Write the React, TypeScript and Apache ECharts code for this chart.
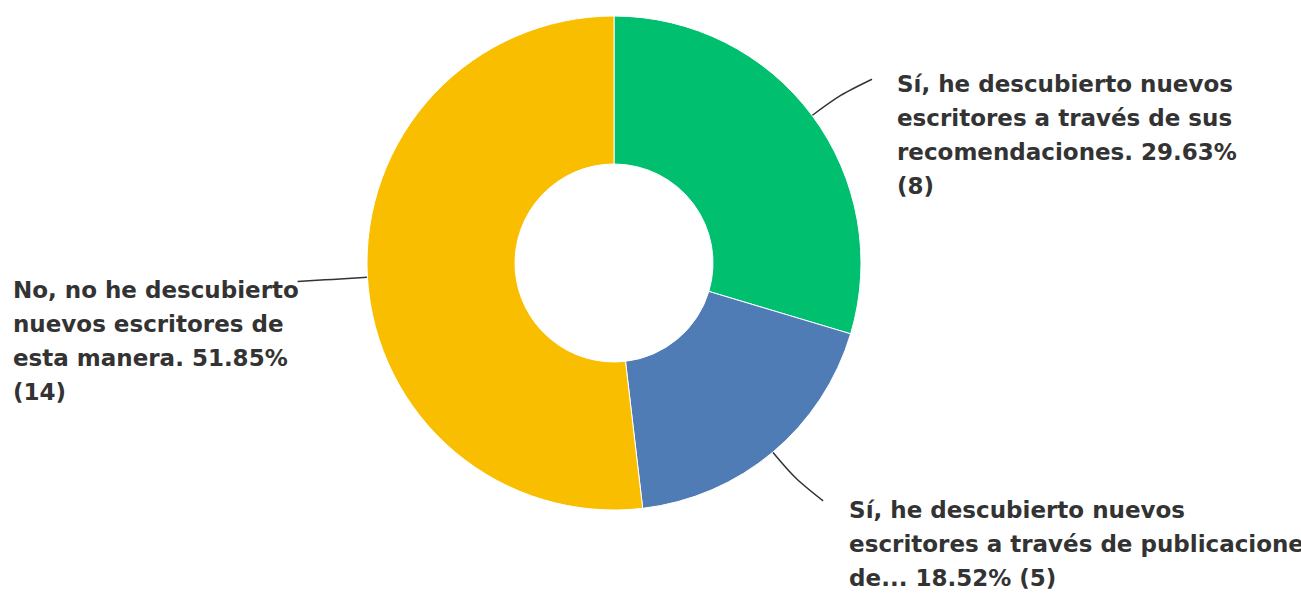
import React, { useEffect, useRef } from "react";
import * as echarts from "echarts";

const categories = [
  "Sí, he descubierto nuevos escritores a través de sus recomendaciones.",
  "Sí, he descubierto nuevos escritores a través de publicaciones de...",
  "No, no he descubierto nuevos escritores de esta manera.",
];
const counts = [8, 5, 14];
const percents = ["29.63%", "18.52%", "51.85%"];
const colors = ["#00BF6F", "#507CB6", "#F9BE00"];
const wrappedNames = [
  ["Sí, he descubierto nuevos", "escritores a través de sus", "recomendaciones."],
  ["Sí, he descubierto nuevos", "escritores a través de publicaciones", "de..."],
  ["No, no he descubierto", "nuevos escritores de", "esta manera."],
];
const countOnOwnLine = [true, false, true];

const CX = 614;
const CY = 263;
const R = 247;
const R0 = 99;
const LINE_LEN = 70;
const labelOffsets = [
  { dx: 25, dy: -12, fixedX: null as number | null, turnDeg: 5.5 },
  { dx: 26, dy: -8, fixedX: null as number | null, turnDeg: -6 },
  { dx: 0, dy: -8, fixedX: 13, turnDeg: 0 },
];

export default function App() {
  const ref = useRef<HTMLDivElement>(null);
  useEffect(() => {
    if (!ref.current) return;
    const chart = echarts.init(ref.current, undefined, { renderer: "svg" });
    const total = counts.reduce((a, b) => a + b, 0);
    const mids: number[] = [];
    let cum = 0;
    counts.forEach((c) => {
      mids.push(((cum + c / 2) / total) * Math.PI * 2);
      cum += c;
    });
    chart.setOption({
      animation: false,
      backgroundColor: "#ffffff",
      series: [
        {
          type: "pie",
          center: [CX, CY],
          radius: [R0, R],
          startAngle: 90,
          clockwise: true,
          avoidLabelOverlap: false,
          itemStyle: { borderColor: "#ffffff", borderWidth: 1 },
          data: categories.map((name, i) => ({
            name,
            value: counts[i],
            itemStyle: { color: colors[i] },
          })),
          label: {
            show: true,
            position: "outside",
            width: 700,
            overflow: "none",
            fontFamily: "DejaVu Sans",
            fontWeight: "bold",
            fontSize: 23,
            lineHeight: 34,
            color: "#333333",
            align: "left",
            formatter: (p: any) => {
              const i = p.dataIndex;
              const lines = wrappedNames[i].slice();
              const last = lines.length - 1;
              lines[last] = lines[last] + " " + percents[i];
              if (countOnOwnLine[i]) lines.push("(" + counts[i] + ")");
              else lines[last] = lines[last] + " (" + counts[i] + ")";
              return lines.join("\n");
            },
          },
          labelLine: {
            show: true,
            length: LINE_LEN,
            length2: 0,
            smooth: 0.3,
            lineStyle: { color: "#333333", width: 1.5 },
          },
          labelLayout: (params: any) => {
            const i = params.dataIndex;
            const off = labelOffsets[i];
            const a = mids[i];
            const b = a + (off.turnDeg * Math.PI) / 180;
            const sx = CX + R * Math.sin(a);
            const sy = CY - R * Math.cos(a);
            const mx = sx + LINE_LEN * 0.5 * Math.sin(a);
            const my = sy - LINE_LEN * 0.5 * Math.cos(a);
            const ex = sx + LINE_LEN * Math.sin(b);
            const ey = sy - LINE_LEN * Math.cos(b);
            return {
              x: off.fixedX != null ? off.fixedX : ex + off.dx,
              y: ey + off.dy,
              align: "left",
              verticalAlign: "top",
              labelLinePoints: [
                [sx, sy],
                [mx, my],
                [ex, ey],
              ],
            };
          },
        },
      ],
    });
    return () => chart.dispose();
  }, []);
  return (
    <div
      ref={ref}
      style={{ position: "fixed", left: 0, top: 0, width: 1301, height: 595 }}
    />
  );
}
